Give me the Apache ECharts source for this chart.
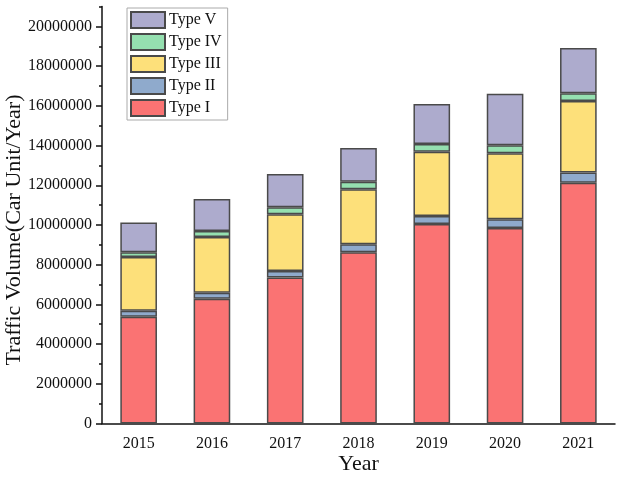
<!DOCTYPE html>
<html>
<head>
<meta charset="utf-8">
<script src="https://cdn.jsdelivr.net/npm/echarts@6/dist/echarts.min.js"></script>
<style>html,body{margin:0;padding:0;background:#fff}#c{width:620px;height:477px}</style>
</head>
<body>
<div id="c"></div>
<script>
const years = ['2015','2016','2017','2018','2019','2020','2021'];
const typeI   = [5380000, 6290000, 7350000, 8620000, 10050000, 9850000, 12130000];
const typeII  = [300000, 300000, 330000, 410000, 400000, 440000, 510000];
const typeIII = [2710000, 2810000, 2860000, 2770000, 3240000, 3320000, 3610000];
const typeIV  = [230000, 300000, 350000, 380000, 390000, 400000, 380000];
const typeV   = [1500000, 1610000, 1680000, 1700000, 2020000, 2600000, 2290000];
const yTicks = [0, 2000000, 4000000, 6000000, 8000000, 10000000, 12000000, 14000000, 16000000, 18000000, 20000000];
const seriesNames = ['Type I', 'Type II', 'Type III', 'Type IV', 'Type V'];
const seriesData = [typeI, typeII, typeIII, typeIV, typeV];
const colors = ['#FA7373', '#8FAACC', '#FDE07A', '#95E0B0', '#ADABCD'];

const FONT = 'Liberation Serif';
const chart = echarts.init(document.getElementById('c'));
chart.setOption({
  animation: false,
  backgroundColor: '#fff',
  grid: { left: 102, right: 5, top: 6.6, bottom: 53.5, containLabel: false, outerBoundsMode: 'none' },
  legend: {
    data: seriesNames.slice().reverse(),
    orient: 'vertical',
    left: 127, top: 8,
    itemWidth: 34, itemHeight: 16, itemGap: 4,
    padding: [3, 6, 3, 3],
    borderColor: '#aaa', borderWidth: 1,
    icon: 'rect',
    textStyle: { fontFamily: FONT, fontSize: 16, color: '#111', padding: [0, 0, 0, -1] }
  },
  xAxis: [
    {
      type: 'category', data: years, position: 'bottom',
      name: 'Year', nameLocation: 'middle', nameGap: 30, nameMoveOverlap: false,
      nameTextStyle: { fontFamily: FONT, fontSize: 22, color: '#111' },
      axisLine: { lineStyle: { color: '#111', width: 1.5 } },
      axisTick: { alignWithLabel: true, length: 6, lineStyle: { color: '#111', width: 1.5 } },
      axisLabel: { fontFamily: FONT, fontSize: 16, color: '#111', margin: 12 }
    },
    {
      type: 'category', data: years, position: 'bottom',
      axisLine: { show: false },
      axisTick: { alignWithLabel: false, length: 3, lineStyle: { color: '#111', width: 1.5 } },
      axisLabel: { show: false }
    }
  ],
  yAxis: [
    {
      type: 'value', min: 0, max: 21000000, interval: 1000000, position: 'left',
      name: 'Traffic Volume(Car Unit/Year)', nameLocation: 'middle', nameGap: 77, nameMoveOverlap: false,
      nameTextStyle: { fontFamily: FONT, fontSize: 22, color: '#111', padding: [0, 30, 0, 0] },
      axisLine: { show: true, lineStyle: { color: '#111', width: 1.5 } },
      axisTick: { show: true, length: 3, lineStyle: { color: '#111', width: 1.5 } },
      splitLine: { show: false },
      axisLabel: {
        fontFamily: FONT, fontSize: 16, color: '#111', margin: 10,
        formatter: function (v) { return yTicks.indexOf(Math.round(v)) >= 0 ? String(Math.round(v)) : ''; }
      }
    },
    {
      type: 'value', min: 0, max: 21000000, position: 'left',
      axisLine: { show: false },
      axisTick: { show: true, length: 6, customValues: yTicks, lineStyle: { color: '#111', width: 1.5 } },
      axisLabel: { show: false },
      splitLine: { show: false }
    }
  ],
  series: seriesNames.map((n, i) => ({
    name: n, type: 'bar', stack: 'total', data: seriesData[i],
    xAxisIndex: 0, yAxisIndex: 0,
    barWidth: '50%',
    itemStyle: { color: colors[i], borderColor: '#4a4a4a', borderWidth: 1.5 }
  }))
});
</script>
</body>
</html>
